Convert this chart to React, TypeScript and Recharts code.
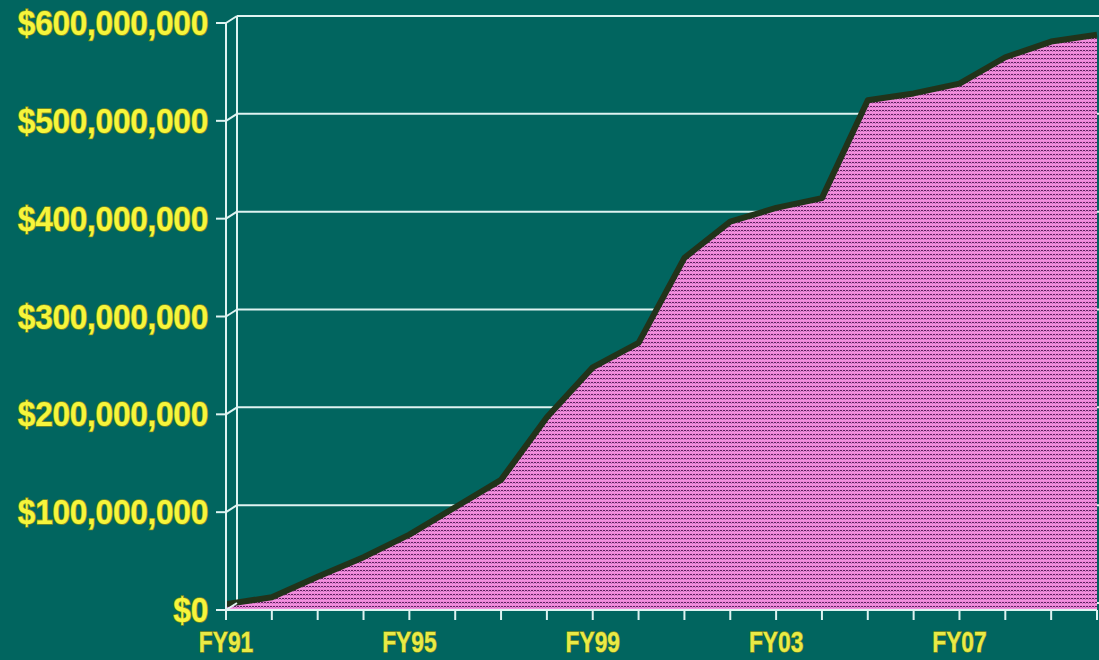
import React from 'react';
import { AreaChart, Area, XAxis, YAxis, CartesianGrid } from 'recharts';

const categories = [
  'FY91', 'FY92', 'FY93', 'FY94', 'FY95', 'FY96', 'FY97', 'FY98', 'FY99', 'FY00',
  'FY01', 'FY02', 'FY03', 'FY04', 'FY05', 'FY06', 'FY07', 'FY08', 'FY09', 'FY10',
];

const cumulativeFunding = [
  6000000, 13000000, 34000000, 54000000, 77000000, 105000000, 133000000, 197000000, 248000000, 273000000,
  360000000, 397000000, 411000000, 421000000, 521000000, 528000000, 538000000, 565000000, 581000000, 588000000,
];

const yTicks = [0, 100000000, 200000000, 300000000, 400000000, 500000000, 600000000];

const xLabelEvery = 4;

const data = categories.map((year, i) => ({ year, value: cumulativeFunding[i] }));

const TEAL = '#01655f';
const GRID = '#dff3f1';
const YELLOW = '#f6f53c';
const XYELLOW = '#e9ea46';
const DEPTH_X = 11;
const DEPTH_Y = 7;

const formatMoney = (v: number) => '$' + v.toLocaleString('en-US');

const YTick = (props: any) => {
  const { x, y, payload } = props;
  return (
    <g>
      <line x1={x - 10} y1={y} x2={x} y2={y} stroke={GRID} strokeWidth={2} />
      <line x1={x} y1={y} x2={x + DEPTH_X} y2={y - DEPTH_Y} stroke={GRID} strokeWidth={2} />
      <text
        transform={`translate(${x - 18},${y}) scale(0.99,1.1)`}
        x={0}
        y={0}
        textAnchor="end"
        dominantBaseline="central"
        fill={YELLOW}
        stroke="#7f8c1c"
        strokeWidth={1.5}
        paintOrder="stroke"
        fontFamily="'Liberation Sans', Arial, sans-serif"
        fontWeight="bold"
        fontSize={32}
        letterSpacing={-0.3}
      >
        {formatMoney(payload.value)}
      </text>
    </g>
  );
};

const XTick = (props: any) => {
  const { x, y, payload, index } = props;
  return (
    <g>
      <line x1={x} y1={y} x2={x} y2={y + 10} stroke={GRID} strokeWidth={2} />
      {index % xLabelEvery === 0 ? (
        <text
          transform={`translate(${x},${y + 32}) scale(0.95,1.25)`}
          x={0}
          y={0}
          textAnchor="middle"
          dominantBaseline="central"
          fill={XYELLOW}
          stroke="#7f8c1c"
          strokeWidth={1}
          paintOrder="stroke"
          fontFamily="'Liberation Sans', Arial, sans-serif"
          fontWeight="bold"
          fontSize={24}
        >
          {payload.value}
        </text>
      ) : null}
    </g>
  );
};

const backLine = (p: any) => (
  <line
    key={`bl-${p.index}-${p.x1}-${p.y1}`}
    x1={p.x1 + DEPTH_X}
    y1={p.y1 - DEPTH_Y}
    x2={p.x2 + DEPTH_X}
    y2={p.y2 - DEPTH_Y}
    stroke={GRID}
    strokeWidth={2}
  />
);

export default function App() {
  return (
    <div
      style={{
        position: 'absolute',
        left: 0,
        top: 0,
        width: 1099,
        height: 660,
        background: TEAL,
        overflow: 'hidden',
      }}
    >
      <AreaChart
        width={1099}
        height={660}
        data={data}
        margin={{ top: 23, right: 2, left: 0, bottom: 10 }}
      >
        <defs>
          <pattern id="dots" width="3" height="4" patternUnits="userSpaceOnUse">
            <rect width="3" height="4" fill="#ee84d8" />
            <rect x="0" y="0" width="3" height="1" fill="#f393df" />
            <rect x="0" y="2" width="2" height="1" fill="#5e2460" />
            <rect x="2" y="3" width="1" height="1" fill="#b86fb4" />
          </pattern>
        </defs>
        <CartesianGrid
          horizontal={backLine}
          vertical={backLine}
          verticalCoordinatesGenerator={({ offset }: any) => [offset.left]}
        />
        <XAxis
          dataKey="year"
          interval={0}
          tickSize={0}
          tickMargin={0}
          height={40}
          axisLine={{ stroke: GRID, strokeWidth: 2 }}
          tickLine={false}
          tick={<XTick />}
        />
        <YAxis
          width={226}
          domain={[0, 600000000]}
          ticks={yTicks}
          interval={0}
          tickSize={0}
          tickMargin={0}
          axisLine={{ stroke: GRID, strokeWidth: 2 }}
          tickLine={false}
          tick={<YTick />}
        />
        <Area
          type="linear"
          dataKey="value"
          stroke="#22331a"
          strokeWidth={6}
          strokeLinejoin="round"
          fill="url(#dots)"
          fillOpacity={1}
          dot={false}
          activeDot={false}
          isAnimationActive={false}
        />
      </AreaChart>
    </div>
  );
}
